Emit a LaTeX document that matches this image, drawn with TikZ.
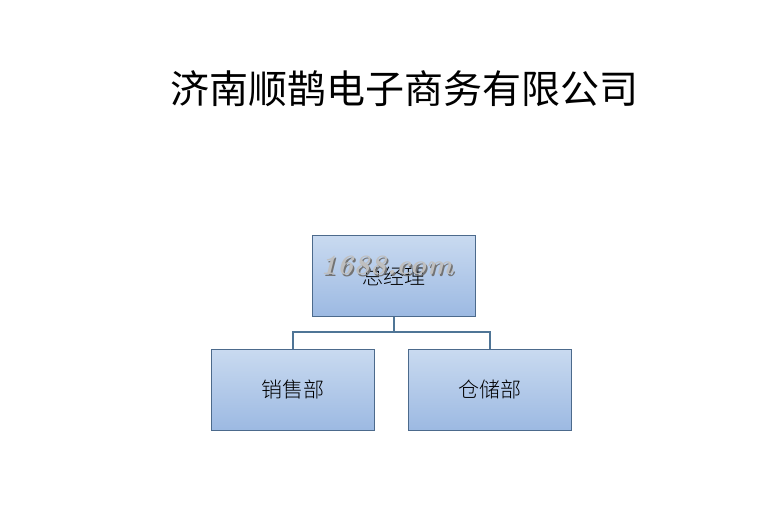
\documentclass[tikz,border=0pt]{standalone}
\usepackage{fontspec}
\newfontfamily\cjk{Noto Sans CJK SC}
\newfontfamily\cjklight{Noto Sans CJK SC Light}
\usetikzlibrary{positioning}
\definecolor{boxtop}{HTML}{C9DAF0}
\definecolor{boxbot}{HTML}{9CB9E2}
\definecolor{boxline}{HTML}{4C6A8C}
\definecolor{conn}{HTML}{4F7596}
\begin{document}
\begin{tikzpicture}[x=1pt,y=1pt,
  orgbox/.style={draw=boxline, line width=0.8pt, top color=boxtop, bottom color=boxbot,
    minimum width=163pt, minimum height=81pt, inner sep=0pt, font=\cjklight\fontsize{21}{21}\selectfont},
  link/.style={draw=conn, line width=2pt},
  mark text/.style={font=\rmfamily\bfseries\itshape\fontsize{28}{28}\selectfont, inner sep=0pt}]
\useasboundingbox (0,0) rectangle (773,-524);
\fill[white] (0,0) rectangle (773,-524);
\node[font=\cjk\fontsize{39}{39}\selectfont, inner sep=0pt] (title) at (404,-89) {济南顺鹊电子商务有限公司};
\node[orgbox] (gm) at (393.5,-276) {总经理};
\node[orgbox] (sales) at (292.5,-390) {销售部};
\node[orgbox] (store) at (489.5,-390) {仓储部};
\coordinate (mid) at (393.5,-332);
\draw[link] (gm.south) -- (mid);
\draw[link] (sales.north) |- (mid) -| (store.north);
\node[mark text, text=black!55] (wmshadow) at (388,-267) {1688.com};
\node[mark text, text=black!25] (wm) at (386.5,-265) {1688.com};
\end{tikzpicture}
\end{document}
